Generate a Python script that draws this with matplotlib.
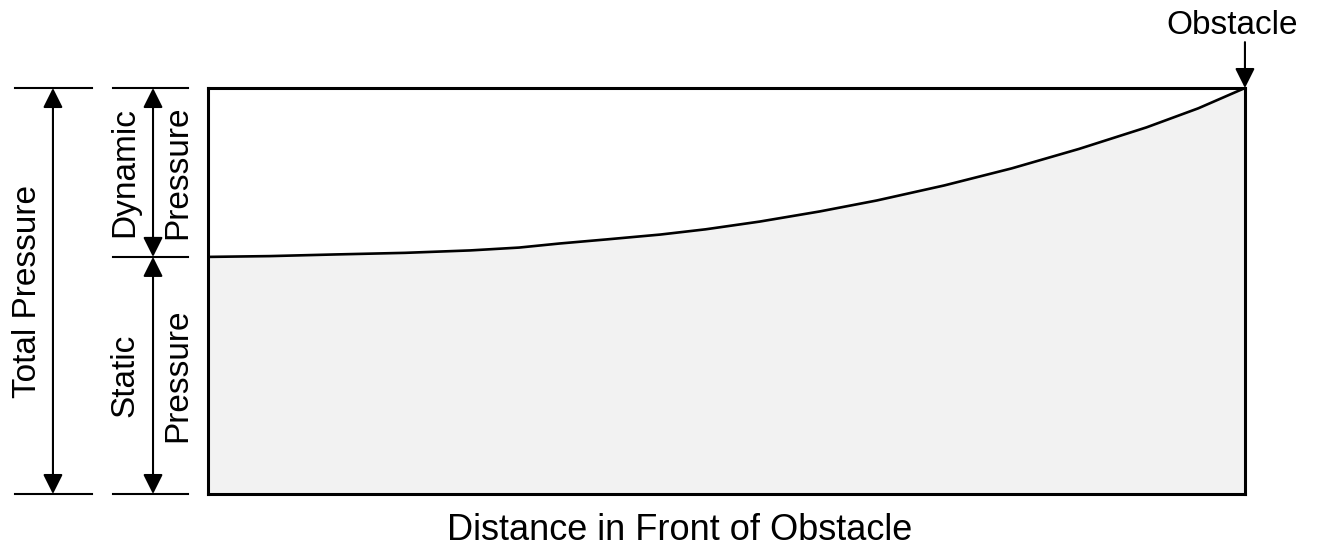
import matplotlib.pyplot as plt

plt.rcParams['font.family'] = ['Liberation Sans', 'DejaVu Sans']

# distance (0 = far away, 1 = at the obstacle) and static pressure (fraction of total)
distance = [0.0, 0.06, 0.122, 0.19, 0.253, 0.30, 0.339, 0.384, 0.436, 0.48,
            0.532, 0.59, 0.645, 0.71, 0.775, 0.84, 0.905, 0.955, 1.0]
static_p = [0.584, 0.586, 0.590, 0.594, 0.600, 0.607, 0.617, 0.627, 0.639, 0.652,
            0.671, 0.696, 0.723, 0.760, 0.802, 0.850, 0.903, 0.950, 1.0]
total_p = 1.0

fig = plt.figure(figsize=(13.23, 5.56), dpi=100)
ax = fig.add_axes([0.1572, 0.1115, 0.7838, 0.7302])
ax.set_xlim(0, 1)
ax.set_ylim(0, total_p)

ax.fill_between(distance, 0, static_p, color='#f2f2f2', zorder=1)
ax.plot(distance, static_p, color='black', lw=1.9, zorder=2,
        solid_joinstyle='round')

for s in ax.spines.values():
    s.set_linewidth(2.2)
ax.set_xticks([])
ax.set_yticks([])

p0 = static_p[0]
lw = 1.5

# reference lines on the left
for y in [0, total_p]:
    ax.plot([-0.186, -0.112], [y, y], color='black', lw=lw, clip_on=False)
for y in [0, p0, total_p]:
    ax.plot([-0.0916, -0.0193], [y, y], color='black', lw=lw, clip_on=False)

arrow = dict(arrowstyle='<|-|>', color='black', lw=lw, mutation_scale=30,
             shrinkA=0, shrinkB=0)
ax.annotate('', xy=(-0.1495, 0), xytext=(-0.1495, total_p), arrowprops=arrow,
            annotation_clip=False)
ax.annotate('', xy=(-0.053, p0), xytext=(-0.053, total_p), arrowprops=arrow,
            annotation_clip=False)
ax.annotate('', xy=(-0.053, 0), xytext=(-0.053, p0), arrowprops=arrow,
            annotation_clip=False)

fs = 24
ax.text(-0.1745, total_p / 2, 'Total Pressure', rotation=90, ha='center', va='center',
        fontsize=fs)
ax.text(-0.080, (p0 + total_p) / 2, 'Dynamic', rotation=90, ha='center', va='center',
        fontsize=fs)
ax.text(-0.029, (p0 + total_p) / 2, 'Pressure', rotation=90, ha='center', va='center',
        fontsize=fs)
ax.text(-0.080, p0 / 2, 'Static', rotation=90, ha='center', va='center', fontsize=fs)
ax.text(-0.029, p0 / 2, 'Pressure', rotation=90, ha='center', va='center', fontsize=fs)

ax.text(0.455, -0.09, 'Distance in Front of Obstacle', ha='center', va='center',
        fontsize=26)

ax.text(0.988, 1.155, 'Obstacle', ha='center', va='center', fontsize=fs)
ax.annotate('', xy=(1.0, 1.0), xytext=(1.0, 1.113),
            arrowprops=dict(arrowstyle='-|>', color='black', lw=lw, mutation_scale=30,
                            shrinkA=0, shrinkB=0),
            annotation_clip=False)

fig.savefig('out.png', dpi=100)
